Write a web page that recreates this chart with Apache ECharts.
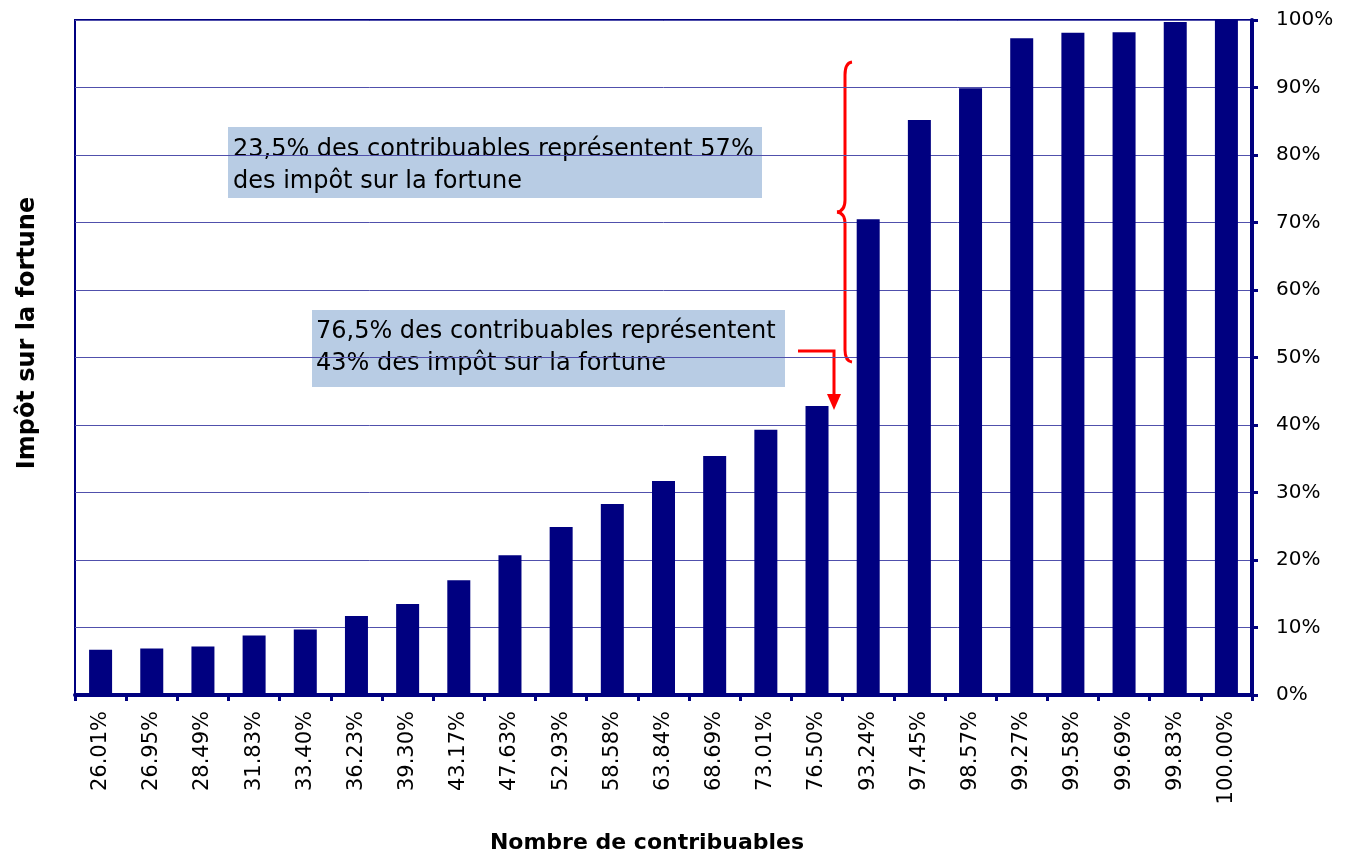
<!DOCTYPE html>
<html>
<head>
<meta charset="utf-8">
<script src="https://cdn.jsdelivr.net/npm/echarts@6/dist/echarts.min.js"></script>
<style>
  html, body { margin: 0; padding: 0; background: #fff; }
  #chart { width: 1352px; height: 857px; }
</style>
</head>
<body>
<div id="chart"></div>
<script>
// part cumulée des contribuables (axe x)
var categories = ['26.01%', '26.95%', '28.49%', '31.83%', '33.40%', '36.23%', '39.30%', '43.17%',
  '47.63%', '52.93%', '58.58%', '63.84%', '68.69%', '73.01%', '76.50%', '93.24%', '97.45%',
  '98.57%', '99.27%', '99.58%', '99.69%', '99.83%', '100.00%']
// part cumulée de l'impôt sur la fortune (%)
var impot = [6.7, 6.9, 7.2, 8.8, 9.7, 11.7, 13.5, 17.0, 20.7, 24.9, 28.3, 31.7, 35.4, 39.3,
  42.8, 70.5, 85.2, 89.9, 97.3, 98.1, 98.2, 99.7, 100]
var note1 = ['23,5% des contribuables représentent 57%', 'des impôt sur la fortune']
var note2 = ['76,5% des contribuables représentent', '43% des impôt sur la fortune']

var navy = '#000080'
var red = '#ff0000'
var font = 'DejaVu Sans'
var chart = echarts.init(document.getElementById('chart'))

function seg(x1, y1, x2, y2) {
  return { type: 'line', shape: { x1: x1, y1: y1, x2: x2, y2: y2 },
    style: { stroke: red, lineWidth: 3 } }
}
function curve(x1, y1, cx, cy, x2, y2) {
  return { type: 'bezierCurve', shape: { x1: x1, y1: y1, cpx1: cx, cpy1: cy, x2: x2, y2: y2 },
    style: { stroke: red, lineWidth: 3, fill: 'none' } }
}

chart.setOption({
  animation: false,
  grid: {
    left: 75,
    right: 100,
    top: 20,
    bottom: 162,
    outerBoundsMode: 'none',
    show: true,
    borderColor: navy,
    borderWidth: 2
  },
  xAxis: {
    type: 'category',
    data: categories,
    axisLine: { lineStyle: { color: navy, width: 4 } },
    axisTick: { show: true, length: 6, lineStyle: { color: navy, width: 3 } },
    axisLabel: {
      interval: 0,
      rotate: 90,
      margin: 16,
      fontFamily: font,
      fontSize: 21,
      color: '#000'
    }
  },
  yAxis: {
    type: 'value',
    position: 'right',
    min: 0,
    max: 100,
    interval: 10,
    axisLine: { show: true, lineStyle: { color: navy, width: 4 } },
    axisTick: { show: true, length: 6, lineStyle: { color: navy, width: 3 } },
    axisLabel: {
      formatter: '{value}%',
      margin: 24,
      fontFamily: font,
      fontSize: 20,
      color: '#000'
    },
    splitLine: { lineStyle: { color: '#5050ac', width: 1 } }
  },
  series: [{
    type: 'bar',
    data: impot,
    barWidth: 23,
    itemStyle: { color: navy }
  }],
  graphic: [
    // titres des axes
    { type: 'text', x: 28, y: 333, rotation: Math.PI / 2,
      style: { text: 'Impôt sur la fortune', font: 'bold 24px "DejaVu Sans"', fill: '#000',
        align: 'center', verticalAlign: 'middle' } },
    { type: 'text', x: 647, y: 843,
      style: { text: 'Nombre de contribuables', font: 'bold 22px "DejaVu Sans"', fill: '#000',
        align: 'center', verticalAlign: 'middle' } },
    // encadrés
    { type: 'rect', shape: { x: 228, y: 127, width: 534, height: 71 }, style: { fill: '#b8cce4' } },
    { type: 'text', x: 233, y: 134,
      style: { text: note1.join('\n'), font: '24px "DejaVu Sans"', fill: '#000', lineHeight: 32 } },
    { type: 'rect', shape: { x: 312, y: 310, width: 473, height: 77 }, style: { fill: '#b8cce4' } },
    { type: 'text', x: 316, y: 316,
      style: { text: note2.join('\n'), font: '24px "DejaVu Sans"', fill: '#000', lineHeight: 32 } },
    // accolade
    curve(852, 62, 845, 63, 845, 75),
    seg(845, 75, 845, 200),
    curve(845, 200, 845, 211, 837, 212),
    curve(837, 212, 845, 213, 845, 224),
    seg(845, 224, 845, 350),
    curve(845, 350, 845, 361, 852, 362),
    // flèche
    { type: 'polyline', shape: { points: [[798, 351], [834, 351], [834, 396]] },
      style: { stroke: red, lineWidth: 3, fill: 'none' } },
    { type: 'polygon', shape: { points: [[827, 394], [841, 394], [834, 410]] },
      style: { fill: red } }
  ]
})
</script>
</body>
</html>
